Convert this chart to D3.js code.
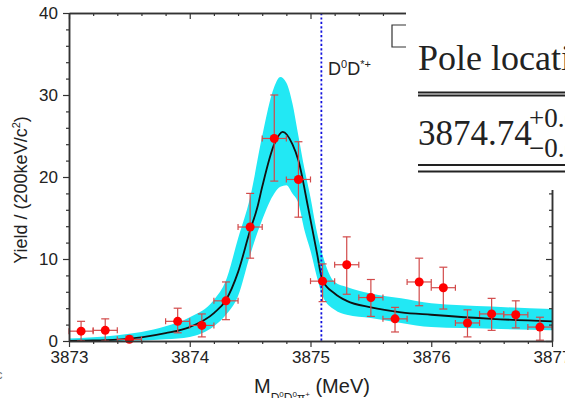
<!DOCTYPE html>
<html lang="en">
<head>
<meta charset="UTF-8">
<title>D0D0pi+ mass spectrum</title>
<script src="https://cdn.jsdelivr.net/npm/d3@7"></script>
<style>
  body { margin: 0; background: #fff; }
  svg { display: block; font-family: "Liberation Sans", Arial, sans-serif; }
</style>
</head>
<body>
<svg id="chart" width="565" height="398"></svg>
<script>
// measured yields, 200 keV bins
var binMass = [3873.1, 3873.3, 3873.5, 3873.9, 3874.1, 3874.3, 3874.5, 3874.7, 3874.9, 3875.1,
    3875.3, 3875.5, 3875.7, 3875.9, 3876.1, 3876.3, 3876.5, 3876.7, 3876.9];
var binYield = [1.2, 1.3, 0.2, 2.4, 1.9, 4.9, 13.9, 24.7, 19.7, 7.3,
    9.3, 5.3, 2.7, 7.2, 6.5, 2.2, 3.3, 3.2, 1.7];
var binErrHigh = [2.4, 2.7, 0.6, 4.0, 3.3, 7.2, 18.0, 30.0, 24.3, 9.4,
    12.7, 7.5, 4.1, 10.1, 9.0, 3.8, 5.2, 4.9, 2.9];
var binErrLow = [0, 0, 0, 1.0, 0.5, 2.6, 10.1, 19.5, 15.1, 4.8,
    5.7, 3.0, 1.1, 4.3, 3.9, 0.5, 1.3, 1.6, 0.1];
var binHalfWidth = 0.1;

// fit result
var fitMass = [3873.0, 3873.2, 3873.4, 3873.6, 3873.8, 3874.0, 3874.2, 3874.3, 3874.4, 3874.5,
    3874.56, 3874.6, 3874.7, 3874.77, 3874.85, 3874.9, 3874.98, 3875.05, 3875.1, 3875.2,
    3875.3, 3875.5, 3875.75, 3876.0, 3876.5, 3877.0];
var fitYield = [0.02, 0.06, 0.18, 0.45, 0.95, 1.7, 3.4, 5.0, 8.4, 13.5,
    16.3, 18.8, 24.0, 25.5, 24.0, 22.0, 16.3, 11.0, 7.4, 5.8,
    4.9, 4.1, 3.5, 3.2, 2.7, 2.4];

// fit uncertainty band
var bandMass = [3873.0, 3873.2, 3873.4, 3873.6, 3873.8, 3874.0, 3874.2, 3874.3, 3874.4, 3874.5,
    3874.6, 3874.7, 3874.75, 3874.8, 3874.85, 3874.9, 3874.95, 3875.0, 3875.05, 3875.1,
    3875.2, 3875.3, 3875.5, 3875.75, 3876.0, 3876.5, 3877.0];
var bandHigh = [0.3, 0.45, 0.7, 1.1, 1.8, 2.9, 5.0, 7.4, 12.5, 17.5,
    25.0, 31.0, 32.2, 31.5, 29.0, 25.0, 21.0, 17.5, 13.5, 10.5,
    7.2, 6.6, 5.8, 5.2, 4.6, 4.2, 3.9];
var bandLow = [0, 0, 0, 0.05, 0.2, 0.5, 1.8, 3.2, 5.5, 10.5,
    14.8, 18.0, 18.8, 19.0, 18.0, 16.8, 13.5, 11.0, 8.0, 5.5,
    3.8, 3.2, 2.8, 2.2, 1.7, 1.5, 1.3];

var xTicks = [3873, 3874, 3875, 3876, 3877];
var yTicks = [0, 10, 20, 30, 40];
var thresholdMass = 3875.09;

var plotLeft = 69, plotRight = 552, plotTop = 13, plotBottom = 341;

var svg = d3.select('#chart');

var x = d3.scaleLinear().domain([3873, 3877]).range([plotLeft, plotRight]);
var y = d3.scaleLinear().domain([0, 40]).range([plotBottom, plotTop]);

var xMinor = d3.range(0, 21).map(i => 3873 + i * 0.2).filter(v => Math.abs(v - Math.round(v)) > 0.01);
var yMinor = d3.range(0, 21).map(i => i * 2).filter(v => v % 10 !== 0);

// band
var bandData = bandMass.map((m, i) => [m, bandLow[i], bandHigh[i]]);
svg.append('path')
    .datum(bandData)
    .attr('fill', '#22e8f4')
    .attr('d', d3.area()
        .x(d => x(d[0]))
        .y0(d => y(d[1]))
        .y1(d => y(d[2]))
        .curve(d3.curveMonotoneX));

// fit line
var fitData = fitMass.map((m, i) => [m, fitYield[i]]);
svg.append('path')
    .datum(fitData)
    .attr('fill', 'none')
    .attr('stroke', '#111')
    .attr('stroke-width', 1.8)
    .attr('d', d3.line()
        .x(d => x(d[0]))
        .y(d => y(d[1]))
        .curve(d3.curveMonotoneX));

// threshold
svg.append('line')
    .attr('x1', x(thresholdMass)).attr('x2', x(thresholdMass))
    .attr('y1', y(40)).attr('y2', y(0))
    .attr('stroke', '#1010dd')
    .attr('stroke-width', 1.8)
    .attr('stroke-dasharray', '2.2,2.2');

// error bars
var points = binMass.map((m, i) => ({ m: m, v: binYield[i], hi: binErrHigh[i], lo: binErrLow[i] }));
var errColor = '#d24a4a';
var bars = svg.append('g').attr('stroke', errColor).attr('stroke-width', 1.2);

bars.selectAll('.xerr').data(points).enter().append('line')
    .attr('x1', d => x(d.m - binHalfWidth)).attr('x2', d => x(d.m + binHalfWidth))
    .attr('y1', d => y(d.v)).attr('y2', d => y(d.v));
bars.selectAll('.xcapl').data(points).enter().append('line')
    .attr('x1', d => x(d.m - binHalfWidth)).attr('x2', d => x(d.m - binHalfWidth))
    .attr('y1', d => y(d.v) - 3).attr('y2', d => y(d.v) + 3);
bars.selectAll('.xcapr').data(points).enter().append('line')
    .attr('x1', d => x(d.m + binHalfWidth)).attr('x2', d => x(d.m + binHalfWidth))
    .attr('y1', d => y(d.v) - 3).attr('y2', d => y(d.v) + 3);
bars.selectAll('.yerr').data(points).enter().append('line')
    .attr('x1', d => x(d.m)).attr('x2', d => x(d.m))
    .attr('y1', d => y(d.hi)).attr('y2', d => y(d.lo));
bars.selectAll('.ycapt').data(points).enter().append('line')
    .attr('x1', d => x(d.m) - 4).attr('x2', d => x(d.m) + 4)
    .attr('y1', d => y(d.hi)).attr('y2', d => y(d.hi));
bars.selectAll('.ycapb').data(points).enter().append('line')
    .attr('x1', d => x(d.m) - 4).attr('x2', d => x(d.m) + 4)
    .attr('y1', d => y(d.lo)).attr('y2', d => y(d.lo));

svg.append('g').selectAll('circle').data(points).enter().append('circle')
    .attr('cx', d => x(d.m))
    .attr('cy', d => y(d.v))
    .attr('r', 4.5)
    .attr('fill', '#ff0000');

// frame and axes
function styleAxis(g) {
    g.select('.domain').attr('stroke', '#333').attr('stroke-width', 1.5);
    g.selectAll('.tick line').attr('stroke', '#333').attr('stroke-width', 1.2);
    g.selectAll('.tick text')
        .attr('font-size', 17)
        .attr('fill', '#222')
        .attr('font-family', '"Liberation Sans", Arial, sans-serif');
}

svg.append('g').attr('transform', `translate(0, ${plotBottom})`)
    .call(d3.axisBottom(x).tickValues(xMinor).tickSize(3).tickSizeOuter(0).tickFormat(''))
    .call(styleAxis);
svg.append('g').attr('transform', `translate(0, ${plotBottom})`)
    .call(d3.axisBottom(x).tickValues(xTicks).tickSize(6).tickSizeOuter(0).tickPadding(4).tickFormat(d => d.toString()))
    .call(styleAxis);

svg.append('g').attr('transform', `translate(0, ${plotTop})`)
    .call(d3.axisTop(x).tickValues(xMinor).tickSize(-3).tickSizeOuter(0).tickFormat(''))
    .call(styleAxis);
svg.append('g').attr('transform', `translate(0, ${plotTop})`)
    .call(d3.axisTop(x).tickValues(xTicks).tickSize(-6).tickSizeOuter(0).tickFormat(''))
    .call(styleAxis);

svg.append('g').attr('transform', `translate(${plotLeft}, 0)`)
    .call(d3.axisLeft(y).tickValues(yMinor).tickSize(3).tickSizeOuter(0).tickFormat(''))
    .call(styleAxis);
svg.append('g').attr('transform', `translate(${plotLeft}, 0)`)
    .call(d3.axisLeft(y).tickValues(yTicks).tickSize(6).tickSizeOuter(0).tickPadding(5))
    .call(styleAxis);

svg.append('g').attr('transform', `translate(${plotRight}, 0)`)
    .call(d3.axisRight(y).tickValues(yMinor).tickSize(-3).tickSizeOuter(0).tickFormat(''))
    .call(styleAxis);
svg.append('g').attr('transform', `translate(${plotRight}, 0)`)
    .call(d3.axisRight(y).tickValues(yTicks).tickSize(-6).tickSizeOuter(0).tickFormat(''))
    .call(styleAxis);

// threshold label
var thr = svg.append('text')
    .attr('x', 328).attr('y', 75)
    .attr('font-size', 18).attr('fill', '#222');
thr.append('tspan').text('D');
thr.append('tspan').attr('font-size', 11).attr('dy', -7).text('0');
thr.append('tspan').attr('dy', 7).text('D');
thr.append('tspan').attr('font-size', 11).attr('dy', -7).text('*+');

// axis titles
var yTitle = svg.append('text')
    .attr('transform', 'translate(27, 190) rotate(-90)')
    .attr('text-anchor', 'middle')
    .attr('font-size', 18).attr('fill', '#222');
yTitle.append('tspan').text('Yield / (200keV/c');
yTitle.append('tspan').attr('font-size', 11).attr('dy', -7).text('2');
yTitle.append('tspan').attr('dy', 7).text(')');

var xTitle = svg.append('text')
    .attr('x', 254).attr('y', 393)
    .attr('font-size', 20).attr('fill', '#222');
xTitle.append('tspan').text('M');
xTitle.append('tspan').attr('font-size', 12).attr('dy', 9).text('D');
xTitle.append('tspan').attr('font-size', 8).attr('dy', -5).text('0');
xTitle.append('tspan').attr('font-size', 12).attr('dy', 5).text('D');
xTitle.append('tspan').attr('font-size', 8).attr('dy', -5).text('0');
xTitle.append('tspan').attr('font-size', 12).attr('dy', 5).text('π');
xTitle.append('tspan').attr('font-size', 8).attr('dy', -5).text('+');
xTitle.append('tspan').attr('dy', -4).text(' (MeV)');

svg.append('text')
    .attr('x', -4).attr('y', 379)
    .attr('font-size', 13).attr('fill', '#777')
    .text('c');

// pasted table fragment on top right
var serif = '"Liberation Serif", "Times New Roman", serif';
svg.append('rect')
    .attr('x', 406).attr('y', 0)
    .attr('width', 159).attr('height', 190)
    .attr('fill', '#fff');
svg.append('path')
    .attr('d', 'M406,25H392V47H406')
    .attr('fill', 'none')
    .attr('stroke', '#333')
    .attr('stroke-width', 1.2);
svg.append('text')
    .attr('x', 418).attr('y', 70)
    .attr('font-family', serif).attr('font-size', 36).attr('fill', '#222')
    .text('Pole location');
[92.5, 95.5, 165, 171.5].forEach(function (ly) {
    svg.append('line')
        .attr('x1', 418).attr('x2', 565)
        .attr('y1', ly).attr('y2', ly)
        .attr('stroke', '#222').attr('stroke-width', 1.8);
});
svg.append('text')
    .attr('x', 418).attr('y', 145)
    .attr('font-family', serif).attr('font-size', 35).attr('fill', '#222')
    .text('3874.74');
svg.append('text')
    .attr('x', 529).attr('y', 127)
    .attr('font-family', serif).attr('font-size', 27).attr('fill', '#222')
    .text('+0.02');
svg.append('text')
    .attr('x', 529).attr('y', 157)
    .attr('font-family', serif).attr('font-size', 27).attr('fill', '#222')
    .text('\u22120.04');
</script>
</body>
</html>
